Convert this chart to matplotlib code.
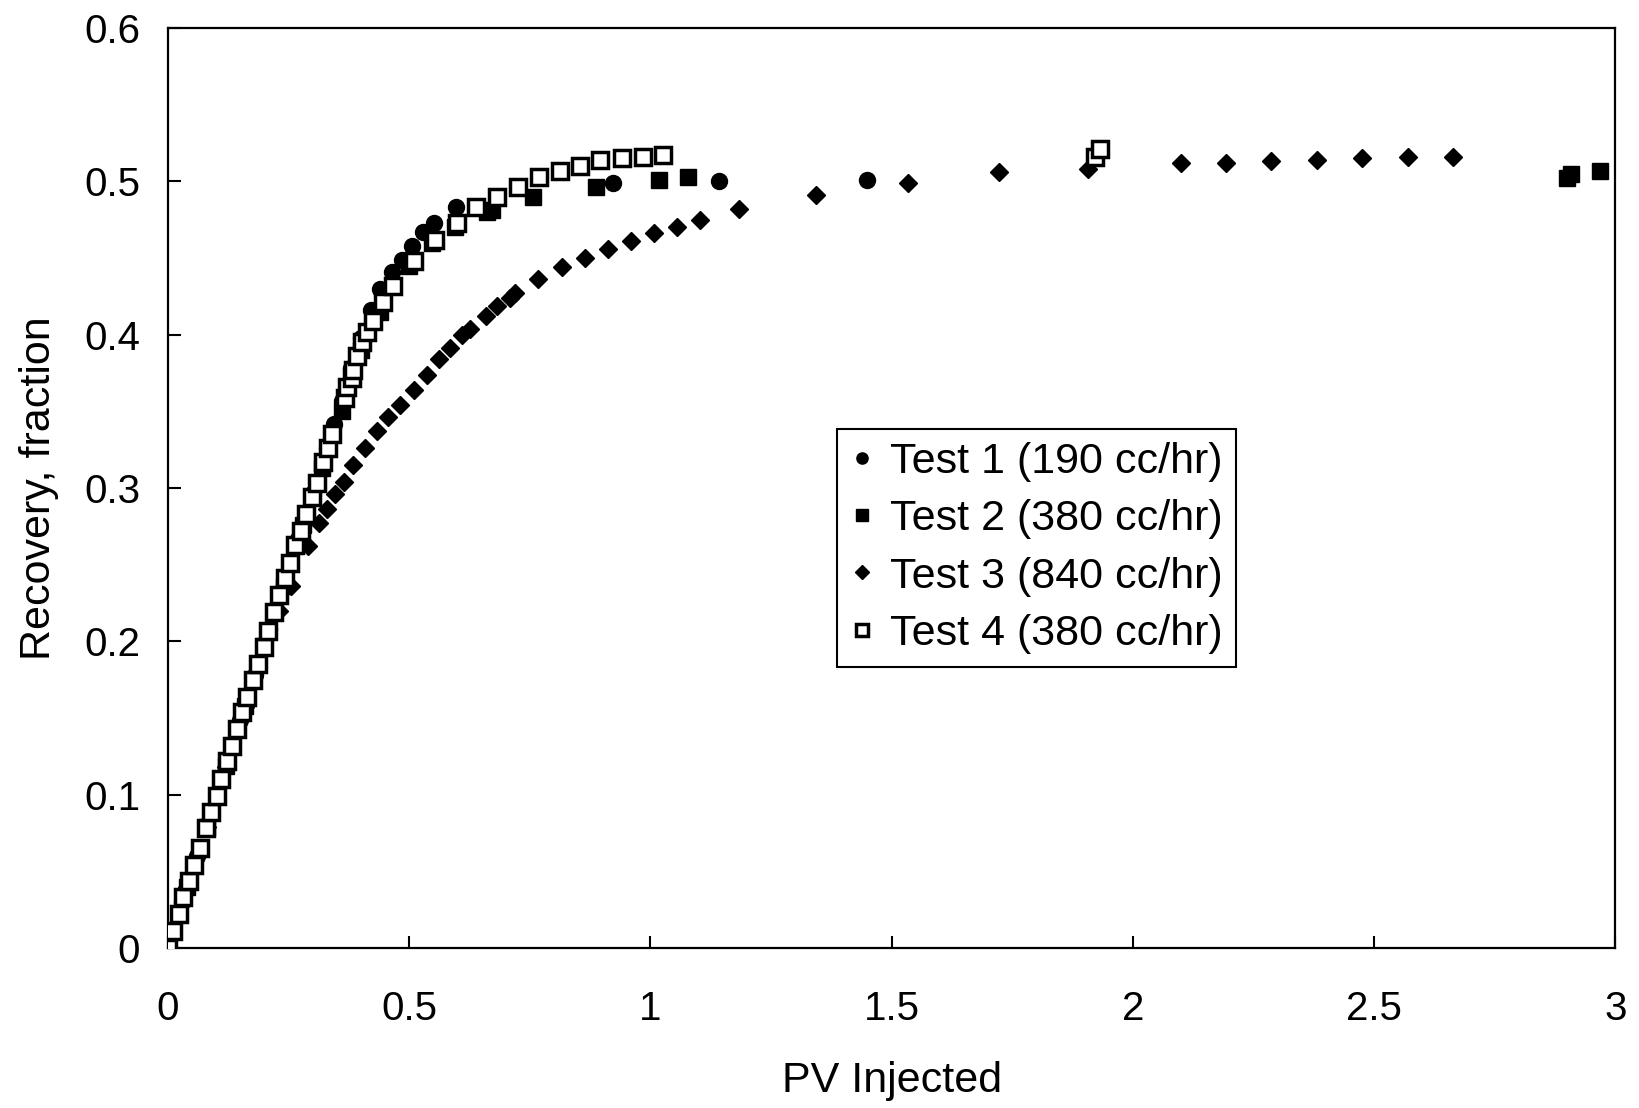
import matplotlib
matplotlib.use("Agg")
import matplotlib.pyplot as plt

plt.rcParams['font.family'] = ['Liberation Sans', 'DejaVu Sans']

# Test 1 (190 cc/hr) - filled circles
t1_pv = [0.0, 0.03, 0.06, 0.09, 0.12, 0.15, 0.18, 0.21, 0.24, 0.27, 0.30, 0.33,
         0.345, 0.36, 0.38, 0.40, 0.42, 0.44, 0.464, 0.485, 0.505, 0.528, 0.552,
         0.597, 0.923, 1.143, 1.450]
t1_rec = [0.0, 0.030, 0.060, 0.089, 0.119, 0.149, 0.178, 0.208, 0.237, 0.267, 0.297, 0.326,
          0.342, 0.357, 0.378, 0.398, 0.416, 0.430, 0.441, 0.449, 0.458, 0.467, 0.473,
          0.483, 0.499, 0.500, 0.501]

# Test 2 (380 cc/hr) - filled squares
t2_pv = [0.0, 0.04, 0.08, 0.12, 0.16, 0.20, 0.24, 0.28, 0.32, 0.36, 0.40, 0.44,
         0.50, 0.547, 0.595, 0.661, 0.671, 0.757, 0.887, 1.017, 1.077,
         2.900, 2.908, 2.968]
t2_rec = [0.0, 0.040, 0.079, 0.119, 0.158, 0.197, 0.236, 0.276, 0.313, 0.350, 0.390, 0.415,
          0.445, 0.460, 0.470, 0.480, 0.481, 0.490, 0.496, 0.501, 0.503,
          0.502, 0.505, 0.507]

# Test 3 (840 cc/hr) - filled diamonds
t3_pv = [0.0, 0.04, 0.08, 0.12, 0.16, 0.20, 0.23,
         0.256, 0.291, 0.313, 0.330, 0.346, 0.364, 0.384, 0.408, 0.433, 0.457,
         0.481, 0.509, 0.536, 0.562, 0.585, 0.609, 0.626, 0.659, 0.681, 0.708,
         0.719, 0.768, 0.816, 0.865, 0.913, 0.959, 1.008, 1.055, 1.103, 1.183,
         1.343, 1.533, 1.722, 1.908, 2.099, 2.193, 2.287, 2.381, 2.476, 2.570, 2.664]
t3_rec = [0.0, 0.040, 0.079, 0.118, 0.157, 0.195, 0.220,
          0.236, 0.262, 0.277, 0.286, 0.296, 0.304, 0.315, 0.326, 0.337, 0.346,
          0.354, 0.364, 0.374, 0.384, 0.391, 0.400, 0.404, 0.412, 0.419, 0.424,
          0.427, 0.436, 0.444, 0.450, 0.456, 0.461, 0.466, 0.470, 0.475, 0.482,
          0.491, 0.499, 0.506, 0.508, 0.512, 0.512, 0.513, 0.514, 0.515, 0.516, 0.516]

# Test 4 (380 cc/hr) - open squares
t4_pv = [0.0, 0.010, 0.023, 0.032, 0.043, 0.054, 0.066, 0.078, 0.089, 0.101, 0.110,
         0.122, 0.132, 0.142, 0.153, 0.163, 0.177, 0.187, 0.198, 0.208, 0.220, 0.231,
         0.243, 0.253, 0.264, 0.275, 0.286, 0.298, 0.308, 0.322, 0.332, 0.339, 0.367,
         0.371, 0.381, 0.384, 0.391, 0.402, 0.413, 0.424, 0.446, 0.467, 0.510, 0.554,
         0.599, 0.639, 0.683, 0.726, 0.770, 0.813, 0.854, 0.896, 0.941, 0.984, 1.027,
         1.922, 1.932]
t4_rec = [0.0, 0.011, 0.022, 0.033, 0.044, 0.054, 0.065, 0.078, 0.089, 0.099, 0.110,
          0.122, 0.132, 0.143, 0.154, 0.164, 0.175, 0.185, 0.196, 0.207, 0.219, 0.230,
          0.241, 0.251, 0.263, 0.272, 0.283, 0.294, 0.303, 0.317, 0.326, 0.335, 0.359,
          0.366, 0.372, 0.377, 0.386, 0.395, 0.402, 0.409, 0.421, 0.432, 0.448, 0.462,
          0.473, 0.483, 0.490, 0.496, 0.503, 0.507, 0.510, 0.514, 0.515, 0.516, 0.517,
          0.516, 0.521]

labels = ["Test 1 (190 cc/hr)", "Test 2 (380 cc/hr)",
          "Test 3 (840 cc/hr)", "Test 4 (380 cc/hr)"]

fig = plt.figure(figsize=(16.39, 11.08), dpi=100)
ax = fig.add_axes([0.1025, 0.1444, 0.883, 0.8303])

ax.plot(t3_pv, t3_rec, linestyle='none', marker='D', ms=9.5, color='black',
        mec='black', label=labels[2], zorder=2)
ax.plot(t2_pv, t2_rec, linestyle='none', marker='s', ms=11.5, color='black',
        mec='black', label=labels[1], zorder=3)
ax.plot(t1_pv, t1_rec, linestyle='none', marker='o', ms=11.5, color='black',
        mec='black', label=labels[0], zorder=4)
ax.plot(t4_pv, t4_rec, linestyle='none', marker='s', ms=11.5, mfc='white',
        mec='black', mew=2.5, label=labels[3], zorder=5)

ax.set_xlim(0, 3)
ax.set_ylim(0, 0.6)
ax.set_xticks([0, 0.5, 1, 1.5, 2, 2.5, 3])
ax.set_xticklabels(["0", "0.5", "1", "1.5", "2", "2.5", "3"])
ax.set_yticks([0, 0.1, 0.2, 0.3, 0.4, 0.5, 0.6])
ax.set_yticklabels(["0", "0.1", "0.2", "0.3", "0.4", "0.5", "0.6"])

ax.tick_params(axis='both', direction='in', length=9, width=1.5, labelsize=29)
ax.tick_params(axis='x', pad=30)
ax.tick_params(axis='y', pad=20)
for sp in ax.spines.values():
    sp.set_linewidth(1.6)

ax.set_xlabel("PV Injected", fontsize=31, labelpad=24)
ax.set_ylabel("Recovery, fraction", fontsize=31, labelpad=18)

# legend in the order of the tests
handles, labs = ax.get_legend_handles_labels()
order = [labs.index(l) for l in labels]
leg = ax.legend([handles[i] for i in order], [labs[i] for i in order],
                loc='upper left', bbox_to_anchor=(0.462, 0.564),
                fontsize=31, markerscale=0.7, handlelength=0.6,
                handletextpad=0.35, borderpad=0.3, labelspacing=0.4,
                fancybox=False, framealpha=1, edgecolor='black',
                borderaxespad=0)
leg.get_frame().set_linewidth(1.5)

fig.savefig("out.png", dpi=100, facecolor='white')
